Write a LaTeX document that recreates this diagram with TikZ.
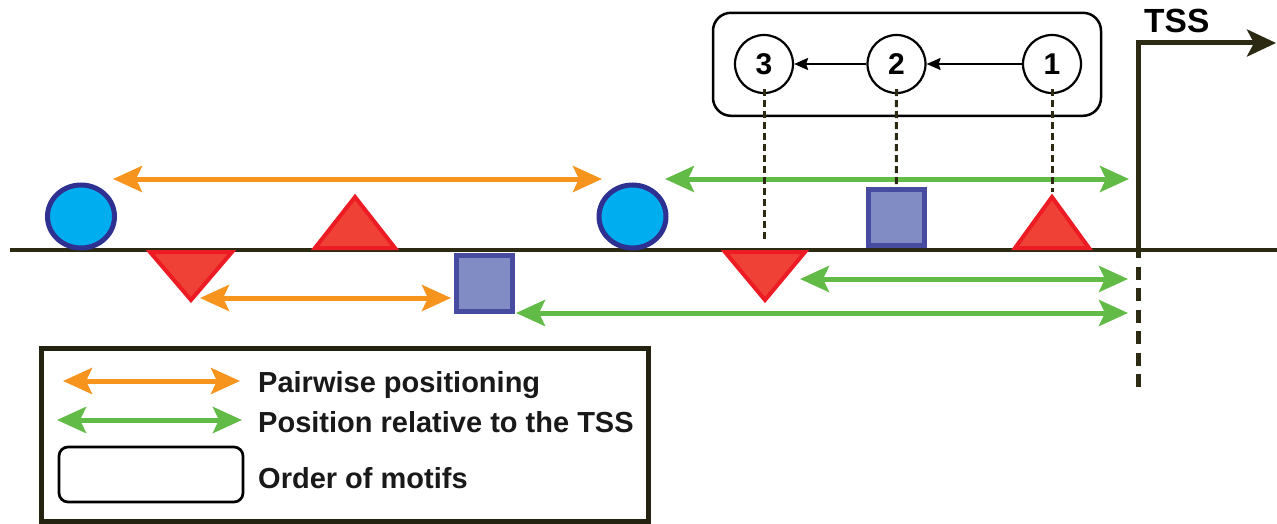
\documentclass[tikz,border=0pt]{standalone}
\usepackage{fontspec}
\setmainfont{Liberation Sans}
\usetikzlibrary{arrows.meta,shapes.geometric}
\definecolor{dnaline}{RGB}{45,42,20}
\definecolor{motiforange}{RGB}{247,148,29}
\definecolor{motifgreen}{RGB}{98,187,70}
\definecolor{cyanfill}{RGB}{0,174,239}
\definecolor{navyedge}{RGB}{46,49,146}
\definecolor{redfill}{RGB}{239,65,54}
\definecolor{rededge}{RGB}{237,28,36}
\definecolor{boxfill}{RGB}{129,139,196}
\definecolor{boxedge}{RGB}{72,76,160}
\tikzset{
  bighead/.tip={Stealth[length=29pt,width=26pt,inset=6pt]},
  oval/.style={ellipse, draw=navyedge, fill=cyanfill, line width=5pt,
    minimum width=67pt, minimum height=63pt, inner sep=0pt},
  boxmotif/.style={rectangle, draw=boxedge, fill=boxfill, line width=5pt,
    minimum width=56pt, minimum height=56pt, inner sep=0pt},
  trimotif/.style={draw=rededge, fill=redfill, line width=4pt, line join=miter},
  pairarrow/.style={motiforange, line width=5pt, bighead-bighead},
  tssarrow/.style={motifgreen, line width=5pt, bighead-bighead},
  ordercirc/.style={circle, draw=black, line width=2.2pt, minimum size=58pt,
    inner sep=0pt, font=\fontsize{30}{34}\selectfont\bfseries},
  orderarrow/.style={black, line width=2pt, -{Stealth[length=14pt,width=12pt,inset=2pt]}},
  guide/.style={dnaline, line width=3pt, dash pattern=on 7pt off 4pt},
  legendtext/.style={anchor=base west, inner sep=0pt,
    font=\fontsize{29}{34}\selectfont\bfseries, text=black!90}
}
\begin{document}
\begin{tikzpicture}[x=1pt,y=-1pt]
\useasboundingbox (0,0) rectangle (1277,524);

% TSS: transcription start site
\coordinate (tssbase) at (1138,250);
\coordinate (tsscorner) at (1138,43);
\coordinate (tsstip) at (1276,43);
\coordinate (tssdash) at (1138,245);
\coordinate (tssdown) at (1138,387);
\draw[dnaline, line width=5pt, line join=miter, -{Stealth[length=29pt,width=27pt,inset=7pt]}]
  (tssbase) -- (tsscorner) -- (tsstip);
\draw[dnaline, line width=5pt, dash pattern=on 13pt off 8.5pt] (tssdash) -- (tssdown);
\node[anchor=base west, inner sep=0pt, font=\fontsize{33.5}{38}\selectfont\bfseries] (tsslabel) at (1144,33) {TSS};

% DNA strand
\coordinate (dnaL) at (10,250);
\coordinate (dnaR) at (1277,250);
\draw[dnaline, line width=4pt] (dnaL) -- (dnaR);

% motifs above and below the strand
\node[oval] (ovA) at (81,216.5) {};
\node[oval] (ovB) at (632.5,216.5) {};
\draw[trimotif] (315,248) -- (355,197) -- (395,248) -- cycle;
\draw[trimotif] (150,252) -- (191,300) -- (232,252) -- cycle;
\draw[trimotif] (725,252) -- (765,300) -- (805,252) -- cycle;
\draw[trimotif] (1015,248) -- (1052,197) -- (1089,248) -- cycle;
\node[boxmotif] (sqA) at (484.5,283) {};
\node[boxmotif] (sqB) at (896.3,217.5) {};
\coordinate (triB) at (1052,192);

% distance arrows
\coordinate (pa1) at (113,179); \coordinate (pa2) at (602,179);
\coordinate (pb1) at (200,298); \coordinate (pb2) at (451,298);
\coordinate (ga1) at (665,179); \coordinate (ga2) at (1129,179);
\coordinate (gb1) at (800,279); \coordinate (gb2) at (1128,279);
\coordinate (gc1) at (516,313); \coordinate (gc2) at (1128,313);
\draw[pairarrow] (pa1) -- (pa2);
\draw[pairarrow] (pb1) -- (pb2);
\draw[tssarrow] (ga1) -- (ga2);
\draw[tssarrow] (gb1) -- (gb2);
\draw[tssarrow] (gc1) -- (gc2);

% order of motifs
\node[draw=black, line width=2.5pt, rounded corners=18pt, minimum width=388pt,
  minimum height=103pt, inner sep=0pt] (order) at (907,64.3) {};
\node[ordercirc] (m3) at (764,64) {3};
\node[ordercirc] (m2) at (896.5,64) {2};
\node[ordercirc] (m1) at (1052,64) {1};
\draw[orderarrow] (m1) -- (m2);
\draw[orderarrow] (m2) -- (m3);
\coordinate (m3end) at (764,241);
\draw[guide] ([yshift=5pt]m3.south) -- (m3end);
\draw[guide] ([yshift=5pt]m2.south) -- (sqB.north);
\draw[guide] ([yshift=5pt]m1.south) -- (triB);

% legend
\node[draw=dnaline!80!black, line width=5pt, minimum width=606.5pt, minimum height=173pt,
  inner sep=0pt] (legend) at (344.75,435) {};
\coordinate (lo1) at (63,381); \coordinate (lo2) at (240,381);
\coordinate (lg1) at (57,420); \coordinate (lg2) at (242,420);
\draw[pairarrow] (lo1) -- (lo2);
\draw[tssarrow] (lg1) -- (lg2);
\node[draw=black, line width=2.7pt, rounded corners=9pt, minimum width=184pt,
  minimum height=55pt, inner sep=0pt] (lbox) at (151,474.5) {};
\node[legendtext] (t1) at (258,392) {Pairwise positioning};
\node[legendtext] (t2) at (258,432) {Position relative to the TSS};
\node[legendtext] (t3) at (258,488) {Order of motifs};
\end{tikzpicture}
\end{document}
